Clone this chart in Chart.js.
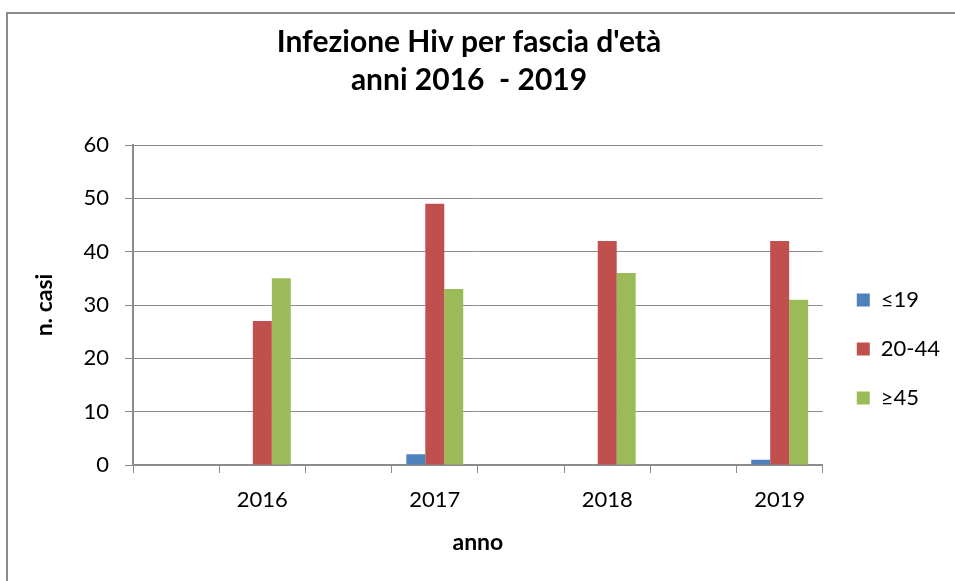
<!DOCTYPE html>
<html>
<head>
<meta charset="utf-8">
<script src="https://cdn.jsdelivr.net/npm/chart.js@4/dist/chart.umd.min.js"></script>
<style>
  html, body { margin: 0; padding: 0; background: #fff; }
  #wrap { width: 955px; height: 581px; }
</style>
</head>
<body>
<div id="wrap"><canvas id="chart" width="955" height="581"></canvas></div>
<script>
// categories (the original sheet has blank columns between the years)
const anni = ['', '2016', '', '2017', '', '2018', '', '2019'];
const fasce = ['≤19', '20-44', '≥45'];
const casi_19 = [null, 0, null, 2, null, 0, null, 1];
const casi_20_44 = [null, 27, null, 49, null, 42, null, 42];
const casi_45 = [null, 35, null, 33, null, 36, null, 31];
const colori = ['#4F81BD', '#C0504D', '#9BBB59'];
const yTicks = [0, 10, 20, 30, 40, 50, 60];

const FONT = 'Lato';

// draws the frame round the chart
const frame = {
  id: 'frame',
  beforeDraw(chart) {
    const ctx = chart.ctx;
    ctx.save();
    ctx.fillStyle = '#fff';
    ctx.fillRect(0, 0, chart.width, chart.height);
    ctx.strokeStyle = '#8c8c8c';
    ctx.lineWidth = 2;
    ctx.strokeRect(7, 13, chart.width + 20, chart.height + 20);
    ctx.restore();
  }
};

// nudge the legend and title to where excel put them
const nudge = {
  id: 'nudge',
  afterLayout(chart) {
    const lg = chart.legend;
    lg.left += 7; lg.right += 7;
    lg.top += 62; lg.bottom += 62;
    const tb = chart.titleBlock;
    tb.left -= 16; tb.right -= 16;
  }
};

const ctx = document.getElementById('chart').getContext('2d');
const myChart = new Chart(ctx, {
  type: 'bar',
  data: {
    labels: anni,
    datasets: [
      { label: fasce[0], data: casi_19, backgroundColor: colori[0] },
      { label: fasce[1], data: casi_20_44, backgroundColor: colori[1] },
      { label: fasce[2], data: casi_45, backgroundColor: colori[2] }
    ]
  },
  options: {
    responsive: false,
    animation: false,
    devicePixelRatio: 1,
    categoryPercentage: 0.66,
    barPercentage: 1.0,
    skipNull: false,
    layout: { padding: { left: 27, right: 12, top: 14, bottom: 21 } },
    plugins: {
      title: {
        display: true,
        text: ["Infezione Hiv per fascia d'età", 'anni 2016  - 2019'],
        color: '#000',
        font: { family: FONT, size: 30, weight: 'bold', lineHeight: 1.25 },
        padding: { top: 10, bottom: 46 }
      },
      legend: {
        position: 'right',
        align: 'center',
        labels: {
          color: '#000',
          boxWidth: 13,
          boxHeight: 13,
          padding: 27,
          font: { family: FONT, size: 22 }
        }
      },
      tooltip: { enabled: false }
    },
    scales: {
      x: {
        offset: true,
        grid: {
          display: true,
          offset: true,
          drawOnChartArea: false,
          drawTicks: true,
          tickLength: 8,
          color: '#8c8c8c'
        },
        border: { color: '#8c8c8c', width: 2 },
        ticks: {
          color: '#000',
          autoSkip: false,
          maxRotation: 0,
          padding: 14,
          font: { family: FONT, size: 22 }
        },
        title: {
          display: true,
          text: 'anno',
          color: '#000',
          font: { family: FONT, size: 23, weight: 'bold' },
          padding: { top: 1 }
        }
      },
      y: {
        min: 0,
        max: 60,
        afterBuildTicks(axis) {
          axis.ticks = yTicks.map(v => ({ value: v }));
        },
        afterFit(axis) {
          axis.width = 106;
        },
        grid: {
          color: '#8c8c8c',
          tickLength: 8,
          lineWidth: 1
        },
        border: { color: '#8c8c8c', width: 2 },
        ticks: {
          color: '#000',
          padding: 16,
          font: { family: FONT, size: 22 }
        },
        title: {
          display: true,
          text: 'n. casi',
          color: '#000',
          font: { family: FONT, size: 23, weight: 'bold' },
          padding: { bottom: 6 }
        }
      }
    }
  },
  plugins: [frame, nudge]
});
</script>
</body>
</html>
